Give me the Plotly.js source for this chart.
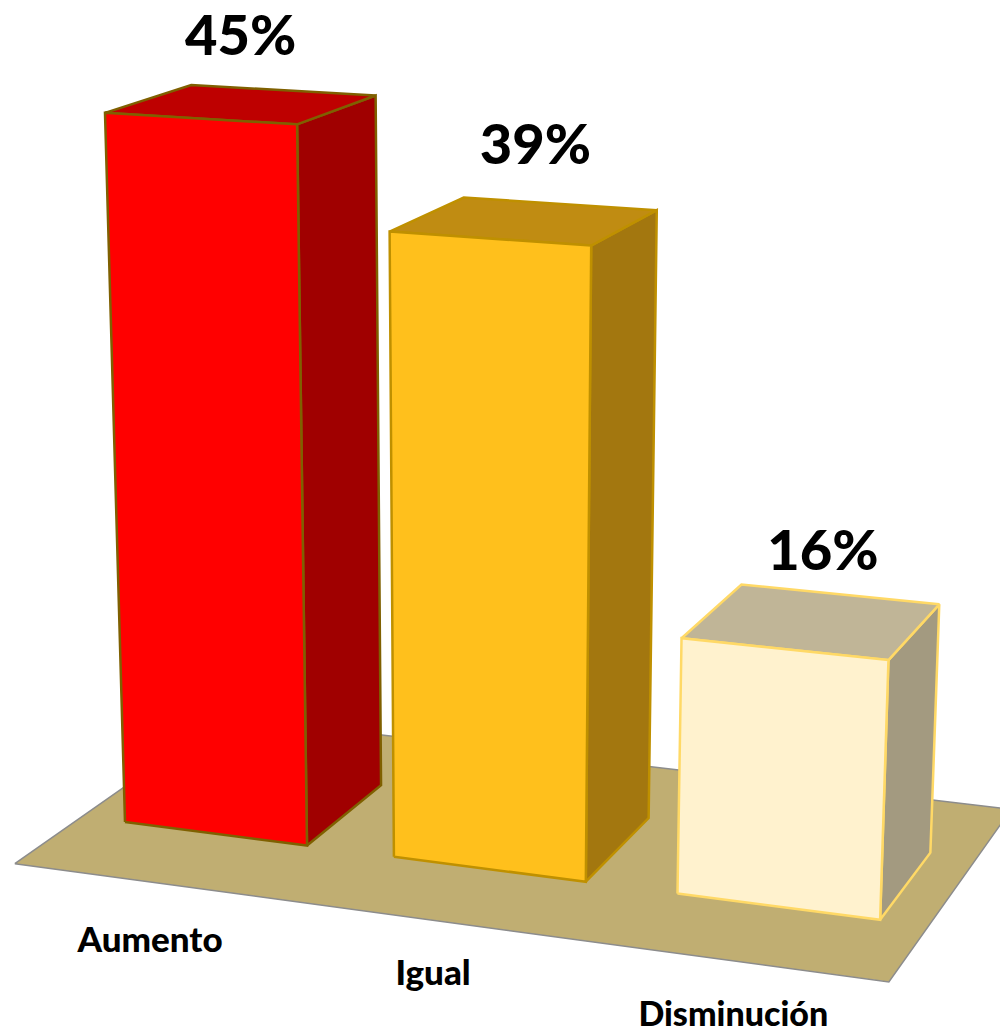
<!DOCTYPE html>
<html><head><meta charset="utf-8">
<script src="https://cdn.plot.ly/plotly-3.0.1.min.js"></script>
<style>html,body{margin:0;padding:0;background:#fff}#c{width:1000px;height:1034px}</style>
</head><body><div id="c"></div>
<script>
// data
const categories = ['Aumento', 'Igual', 'Disminución'];
const values = [45, 39, 16];
const valueLabels = ['45%', '39%', '16%'];

// styles
const frontColors = ['#FF0000', '#FFC01C', '#FFF2CE'];
const topColors = ['#BE0000', '#C08C12', '#C0B597'];
const sideColors = ['#A00000', '#A3770F', '#A39A80'];
const edgeColors = ['#7F6000', '#BF9000', '#FFD966'];
const floorColor = '#C0AE72';
const floorEdge = '#8C8C8C';
const catSizes = [35, 35, 34];

// label placement in scene units
const valueAlong = [0.462, 0.522, 0.522];
const valueAbove = [3.68, 4.11, 3.78];
const catAlong = [0.837, 0.747, 0.695];
const catDepth = [-1.42, -1.345, -1.335];

// a pinhole view of the scene: x = along the categories, y = depth, z = percent
const view = {a: -0.01766, b: 0.0497, c: -0.001186,
  vx: [-10000, -490], vy: [1921, -472], vz: [480, 13400], o: [125, 822]};
function project(x, y, z) {
  const ax = view.a * x, by = view.b * y, cz = view.c * z;
  const w = 1 + ax + by + cz;
  return [
    (ax * view.vx[0] + by * view.vy[0] + cz * view.vz[0] + view.o[0]) / w,
    (ax * view.vx[1] + by * view.vy[1] + cz * view.vz[1] + view.o[1]) / w
  ];
}
const barStart = i => i * 1.465;
const barDepth = 0.95;
function polygon(points, fill, edge, width) {
  const p = points.concat([points[0]]).map(q => project(q[0], q[1], q[2]));
  return {type: 'scatter', mode: 'lines', x: p.map(q => q[0]), y: p.map(q => q[1]),
    fill: 'toself', fillcolor: fill, line: {color: edge, width: width, shape: 'linear'},
    hoverinfo: 'skip', showlegend: false};
}
const traces = [];
traces.push(polygon([[-0.24, -0.715, 0], [4.163, -0.715, 0], [4.163, 1.7, 0], [-0.24, 1.7, 0]], floorColor, floorEdge, 1.5));
values.forEach((v, i) => {
  const x0 = barStart(i), x1 = x0 + 1, d = barDepth;
  traces.push(polygon([[x1, 0, 0], [x1, d, 0], [x1, d, v], [x1, 0, v]], sideColors[i], edgeColors[i], 2.5));
  traces.push(polygon([[x0, 0, v], [x1, 0, v], [x1, d, v], [x0, d, v]], topColors[i], edgeColors[i], 2.5));
  traces.push(polygon([[x0, 0, 0], [x1, 0, 0], [x1, 0, v], [x0, 0, v]], frontColors[i], edgeColors[i], 2.5));
});
const valuePos = values.map((v, i) => project(barStart(i) + valueAlong[i], 0.55, v + valueAbove[i]));
traces.push({type: 'scatter', mode: 'text', x: valuePos.map(p => p[0]), y: valuePos.map(p => p[1]),
  text: valueLabels, textposition: 'middle center', cliponaxis: false,
  textfont: {family: 'Lato, Carlito, sans-serif', size: 56, color: '#000', weight: 900},
  hoverinfo: 'skip', showlegend: false});
const catPos = categories.map((c, i) => project(barStart(i) + catAlong[i], catDepth[i], 0));
traces.push({type: 'scatter', mode: 'text', x: catPos.map(p => p[0]), y: catPos.map(p => p[1]),
  text: categories, textposition: 'middle center', cliponaxis: false,
  textfont: {family: 'Lato, Carlito, sans-serif', size: catSizes, color: '#000', weight: 900},
  hoverinfo: 'skip', showlegend: false});

Plotly.newPlot('c', traces, {
  width: 1000, height: 1034, margin: {l: 0, r: 0, t: 0, b: 0},
  paper_bgcolor: '#fff', plot_bgcolor: '#fff', showlegend: false,
  xaxis: {range: [0, 1000], visible: false, fixedrange: true},
  yaxis: {range: [1034, 0], visible: false, fixedrange: true}
}, {displayModeBar: false, staticPlot: true});
</script></body></html>
